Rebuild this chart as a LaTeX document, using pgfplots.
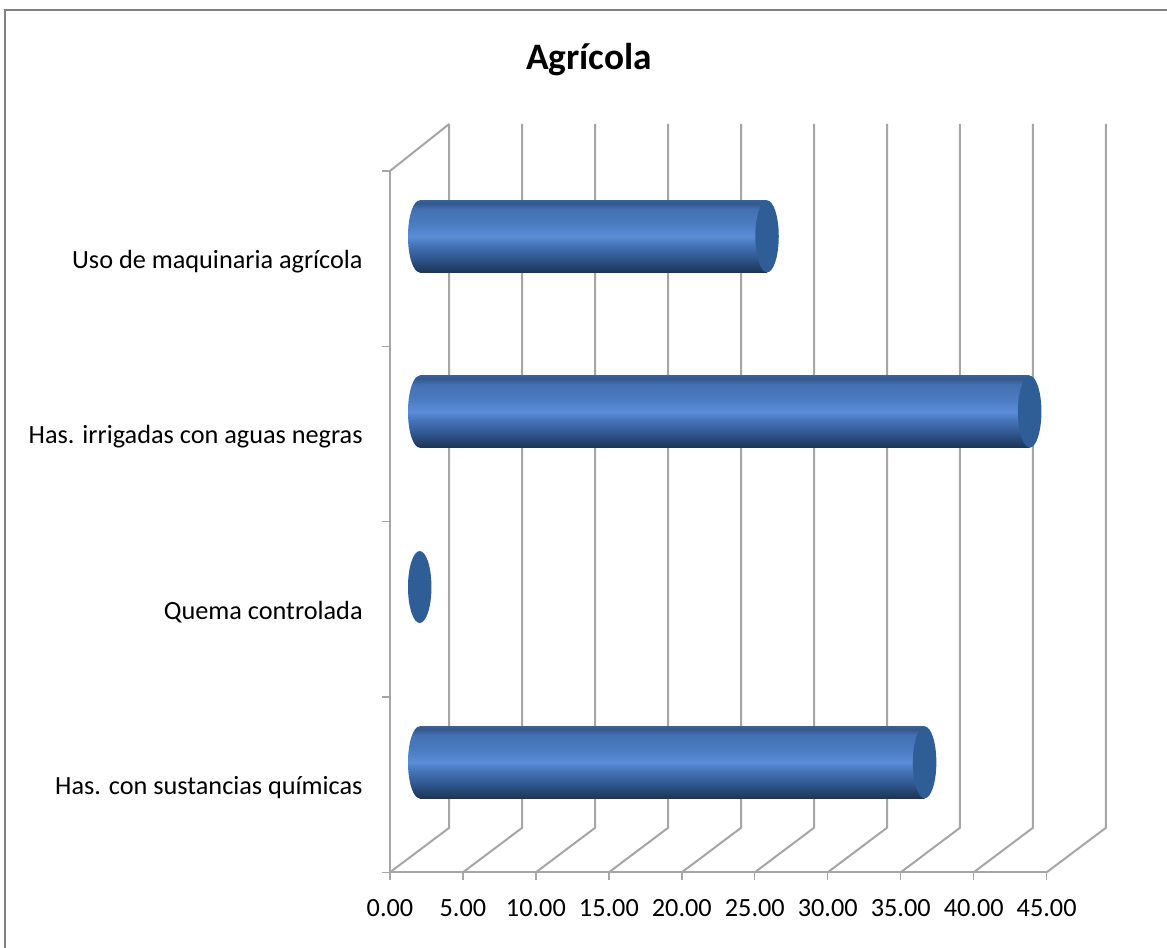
\documentclass[border=0pt]{standalone}
\usepackage{pgfplots}
\pgfplotsset{compat=1.18}
\usepackage{fontspec}
\setmainfont{Carlito}
\definecolor{gridg}{HTML}{A6A6A6}
\definecolor{capc}{HTML}{2F5D96}
\definecolor{cA}{HTML}{1C3557}
\definecolor{cB}{HTML}{24426C}
\definecolor{cC}{HTML}{325A94}
\definecolor{cD}{HTML}{4474B8}
\definecolor{cE}{HTML}{5B8DD8}
\definecolor{cF}{HTML}{4C7CC2}
\definecolor{cG}{HTML}{4270B2}
\definecolor{cH}{HTML}{34588C}
\definecolor{cI}{HTML}{3A6096}
\pgfdeclareverticalshading{cyl}{100bp}{%
 color(0bp)=(cA);
 color(25bp)=(cA);
 color(29bp)=(cB);
 color(36bp)=(cC);
 color(44bp)=(cD);
 color(50bp)=(cE);
 color(58bp)=(cF);
 color(69bp)=(cG);
 color(73bp)=(cH);
 color(75bp)=(cI);
 color(100bp)=(cI)}
\pgfdeclareplotmark{capL}{\shade[shading=cyl,draw=none] (0.6pt,-27pt) -- (0,-27pt) arc (270:90:8.8pt and 27pt) -- (0.6pt,27pt) -- cycle;}
\pgfdeclareplotmark{capR}{\fill[capc,draw=none] (0,0) ellipse (8.8pt and 27pt);}
\pgfplotsset{cylbar/.style={xbar,bar width=54pt,bar shift=0pt,draw=none,shading=cyl,xshift=22.3pt,yshift=16.7pt}}
\begin{document}
\begin{tikzpicture}[x=0.75pt,y=0.75pt]
\path[use as bounding box] (-390,-75.7) rectangle (777,872.3);
\draw[color=black!50,line width=1.6pt] (-385,-75.7) -- (-385,862.3) -- (777,862.3);
\begin{axis}[
  at={(0,0)},anchor=south west,
  scale only axis,
  width=492.5pt,height=526pt,
  xmin=0,xmax=45,ymin=0,ymax=4,
  clip=false,
  axis lines*=left,
  axis line style={draw=gridg,line width=1.3pt,-},
  tick align=outside,
  major tick length=6pt,
  tick style={draw=gridg,line width=1pt},
  xtick={0,5,10,15,20,25,30,35,40,45},
  xticklabels={0.00,5.00,10.00,15.00,20.00,25.00,30.00,35.00,40.00,45.00},
  ytick={0,1,2,3,4},
  yticklabels={},
  extra y ticks={0.5,1.5,2.5,3.5},
  extra y tick labels={Has. con sustancias químicas,Quema controlada,Has. irrigadas con aguas negras,Uso de maquinaria agrícola},
  extra y tick style={major tick length=0pt},
  tick label style={font=\fontsize{19.7pt}{22pt}\selectfont},
  xticklabel style={yshift=-11pt},
  yticklabel style={xshift=-17pt,yshift=-2pt},
  title={\bfseries Agrícola},
  title style={at={(axis description cs:0.303,1.133)},anchor=base,
    font=\fontsize{28pt}{32pt}\selectfont},
]
% back wall and floor grid: front point, back bottom, back top
\addplot[gridg,line width=1.5pt] coordinates {(0,0) (4.06,0.254) (4.06,4.268)};
\addplot[gridg,line width=1.5pt] coordinates {(5,0) (9.06,0.254) (9.06,4.268)};
\addplot[gridg,line width=1.5pt] coordinates {(10,0) (14.06,0.254) (14.06,4.268)};
\addplot[gridg,line width=1.5pt] coordinates {(15,0) (19.06,0.254) (19.06,4.268)};
\addplot[gridg,line width=1.5pt] coordinates {(20,0) (24.06,0.254) (24.06,4.268)};
\addplot[gridg,line width=1.5pt] coordinates {(25,0) (29.06,0.254) (29.06,4.268)};
\addplot[gridg,line width=1.5pt] coordinates {(30,0) (34.06,0.254) (34.06,4.268)};
\addplot[gridg,line width=1.5pt] coordinates {(35,0) (39.06,0.254) (39.06,4.268)};
\addplot[gridg,line width=1.5pt] coordinates {(40,0) (44.06,0.254) (44.06,4.268)};
\addplot[gridg,line width=1.5pt] coordinates {(45,0) (49.06,0.254) (49.06,4.268)};
\addplot[gridg,line width=1.5pt] coordinates {(0,4) (4.06,4.268)};
% cylinders
\addplot[only marks,mark=capL,xshift=22.3pt,yshift=16.7pt] coordinates {(0,0.5) (0,2.5) (0,3.5)};
\addplot[cylbar] coordinates {(34.6,0.5)};
\addplot[cylbar] coordinates {(41.8,2.5)};
\addplot[cylbar] coordinates {(23.8,3.5)};
\addplot[only marks,mark=capR,xshift=22.3pt,yshift=16.7pt]
  coordinates {(34.6,0.5) (0,1.5) (41.8,2.5) (23.8,3.5)};
\end{axis}
\end{tikzpicture}
\end{document}
